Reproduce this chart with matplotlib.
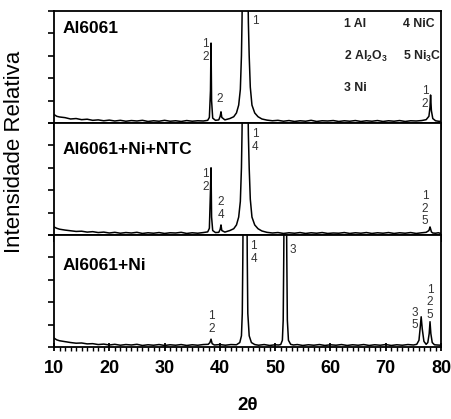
"""
Difractogramas DRX de Al6061, Al6061+Ni+NTC y Al6061+Ni apilados
(intensidad relativa vs 2 theta).
"""

import matplotlib
matplotlib.use("Agg")
import matplotlib.pyplot as plt
from matplotlib.ticker import MultipleLocator

plt.rcParams["font.family"] = ["Liberation Sans", "DejaVu Sans"]
plt.rcParams["mathtext.default"] = "regular"

# ---- datos (2theta en grados, intensidad en divisiones) ----
tt_al = [10, 10.5, 11, 12, 13, 14, 15, 16, 17, 18, 19, 20, 21, 22, 23, 24,
         25, 26, 27, 28, 29, 30, 31, 32, 33, 34, 35, 36, 37, 37.8, 38.1,
         38.3, 38.4, 38.5, 38.7, 39.2, 39.8, 40.05, 40.2, 40.35, 40.9,
         41.8, 42.5, 43.0, 43.4, 43.7, 43.9, 44.0, 44.1, 44.2, 44.95,
         45.05, 45.15, 45.3, 45.5, 45.8, 46.3, 46.9, 47.6, 48.5, 49.5, 50.5,
         51.5, 52.5, 53.5, 54.5, 55.5, 56.5, 57.5, 58.5, 59.5, 60.5, 61.5,
         62.5, 63.5, 64.5, 65.5, 66.5, 67.5, 68.5, 69.5, 70.5, 71.5, 72.5,
         73.5, 74.5, 75.5, 76.5, 77.3, 77.8, 78.0, 78.1, 78.25, 78.5, 79.0,
         79.5, 80]
int_al = [0.38, 0.30, 0.27, 0.24, 0.18, 0.20, 0.15, 0.17, 0.12, 0.14, 0.10,
          0.13, 0.09, 0.12, 0.08, 0.11, 0.09, 0.12, 0.07, 0.10, 0.08, 0.12,
          0.08, 0.10, 0.07, 0.11, 0.08, 0.10, 0.09, 0.12, 0.25, 1.45, 3.57,
          1.00, 0.22, 0.12, 0.14, 0.30, 0.50, 0.25, 0.14, 0.20, 0.28, 0.45,
          0.80, 1.50, 3.00, 4.50, 6.50, 8.00, 8.00, 6.50, 4.50, 3.00, 1.60,
          0.80, 0.45, 0.28, 0.18, 0.13, 0.10, 0.12, 0.08, 0.11, 0.07, 0.10,
          0.08, 0.12, 0.07, 0.10, 0.09, 0.11, 0.07, 0.10, 0.08, 0.11, 0.07,
          0.10, 0.08, 0.11, 0.07, 0.10, 0.08, 0.11, 0.07, 0.10, 0.09, 0.11,
          0.15, 0.30, 0.70, 1.25, 0.55, 0.20, 0.10, 0.08, 0.07]

tt_ntc = [10, 10.5, 11, 12, 13, 14, 15, 16, 17, 18, 19, 20, 21, 22, 23, 24,
          25, 26, 27, 28, 29, 30, 31, 32, 33, 34, 35, 36, 37, 37.8, 38.1,
          38.3, 38.4, 38.5, 38.7, 39.2, 39.8, 40.05, 40.2, 40.35, 40.9,
          41.8, 42.5, 43.0, 43.4, 43.7, 43.9, 44.0, 44.1, 44.2, 44.95,
          45.05, 45.15, 45.3, 45.5, 45.8, 46.3, 46.9, 47.6, 48.5, 49.5, 50.5,
          51.5, 52.5, 53.5, 54.5, 55.5, 56.5, 57.5, 58.5, 59.5, 60.5, 61.5,
          62.5, 63.5, 64.5, 65.5, 66.5, 67.5, 68.5, 69.5, 70.5, 71.5, 72.5,
          73.5, 74.5, 75.5, 76.5, 77.3, 77.8, 78.0, 78.1, 78.25, 78.5, 79.0,
          79.5, 80]
int_ntc = [0.36, 0.30, 0.26, 0.22, 0.19, 0.16, 0.17, 0.13, 0.15, 0.11, 0.13,
           0.09, 0.12, 0.08, 0.11, 0.09, 0.12, 0.07, 0.10, 0.08, 0.11, 0.07,
           0.10, 0.09, 0.12, 0.07, 0.10, 0.08, 0.11, 0.14, 0.30, 2.00, 3.00,
           0.80, 0.20, 0.11, 0.12, 0.25, 0.45, 0.20, 0.13, 0.20, 0.28, 0.45,
           0.80, 1.50, 3.00, 4.50, 6.50, 8.00, 8.00, 6.50, 4.50, 3.00, 1.60,
           0.80, 0.45, 0.28, 0.18, 0.12, 0.09, 0.11, 0.07, 0.10, 0.08, 0.11,
           0.07, 0.10, 0.08, 0.11, 0.07, 0.09, 0.08, 0.11, 0.07, 0.10, 0.08,
           0.11, 0.07, 0.10, 0.08, 0.11, 0.07, 0.10, 0.08, 0.11, 0.07, 0.10,
           0.12, 0.20, 0.36, 0.28, 0.14, 0.09, 0.08, 0.10, 0.07]

tt_ni = [10, 10.5, 11, 12, 13, 14, 15, 16, 17, 18, 19, 20, 21, 22, 23, 24,
         25, 26, 27, 28, 29, 30, 31, 32, 33, 34, 35, 36, 37, 37.9, 38.2,
         38.4, 38.6, 39.0, 40.0, 41.0, 42.0, 43.0, 43.6, 43.9, 44.05, 44.15,
         44.25, 44.85, 44.95, 45.05, 45.3, 45.7, 46.3, 47.0, 48.0, 49.0, 50.0,
         50.6, 51.0, 51.3, 51.45, 51.55, 51.65, 52.0, 52.1, 52.2, 52.4, 52.8,
         53.3, 54.0, 55.0, 56.0, 57.0, 58.0, 59.0, 60.0, 61.0, 62.0, 63.0,
         64.0, 65.0, 66.0, 67.0, 68.0, 69.0, 70.0, 71.0, 72.0, 73.0, 74.0,
         75.0, 75.6, 76.0, 76.2, 76.4, 76.6, 76.9, 77.3, 77.6, 77.85, 78.0,
         78.15, 78.4, 78.8, 79.3, 80]
int_ni = [0.40, 0.32, 0.28, 0.24, 0.20, 0.17, 0.18, 0.14, 0.15, 0.11, 0.13,
          0.09, 0.12, 0.08, 0.11, 0.09, 0.12, 0.07, 0.10, 0.08, 0.11, 0.07,
          0.10, 0.08, 0.11, 0.07, 0.10, 0.08, 0.11, 0.12, 0.20, 0.35, 0.15,
          0.09, 0.11, 0.08, 0.11, 0.10, 0.20, 0.50, 1.50, 4.00, 8.00, 8.00,
          4.00, 1.50, 0.50, 0.20, 0.11, 0.08, 0.11, 0.07, 0.10, 0.09, 0.11,
          0.30, 1.20, 4.00, 8.00, 8.00, 4.00, 1.20, 0.30, 0.12, 0.09, 0.11,
          0.07, 0.10, 0.08, 0.11, 0.07, 0.10, 0.08, 0.11, 0.07, 0.10, 0.08,
          0.11, 0.07, 0.10, 0.08, 0.11, 0.07, 0.10, 0.08, 0.11, 0.09, 0.12,
          0.30, 0.80, 1.35, 0.80, 0.25, 0.12, 0.20, 0.60, 1.13, 0.60, 0.20,
          0.10, 0.09, 0.08]

nombres_muestras = ["Al6061", "Al6061+Ni+NTC", "Al6061+Ni"]

# etiquetas de picos: (2theta, altura, texto)
picos_al = [(37.35, 3.25, "1\n2"), (40.0, 1.07, "2"),
            (46.35, 4.55, "1"), (77.1, 1.12, "1\n2")]
picos_ntc = [(37.4, 2.45, "1\n2"), (40.2, 1.18, "2\n4"),
             (46.35, 4.2, "1\n4"), (77.1, 1.18, "1\n2\n5")]
picos_ni = [(38.5, 1.09, "1\n2"), (46.1, 4.2, "1\n4"),
            (53.1, 4.33, "3"), (75.2, 1.25, "3\n5"),
            (78.0, 1.99, "1\n2\n5")]

fases = [(62.45, 4.42, "1 Al"), (73.1, 4.42, "4 NiC"),
         (62.45, 2.95, "2 Al$_2$O$_3$"), (73.1, 2.95, "5 Ni$_3$C"),
         (62.45, 1.56, "3 Ni")]


def graficar():
    fig = plt.figure(figsize=(4.51, 4.19), dpi=100)
    gs = fig.add_gridspec(3, 1, left=0.1197, right=0.978, top=0.9737,
                          bottom=0.1718, hspace=0)
    ejes = [fig.add_subplot(gs[i]) for i in range(3)]

    series = [(tt_al, int_al, picos_al), (tt_ntc, int_ntc, picos_ntc),
              (tt_ni, int_ni, picos_ni)]

    for i, (ax, (tt, inten, picos)) in enumerate(zip(ejes, series)):
        ax.plot(tt, inten, color="black", linewidth=1.1)
        ax.set_xlim(10, 80)
        ax.set_ylim(0, 5)
        ax.yaxis.set_major_locator(MultipleLocator(1))
        ax.tick_params(axis="y", direction="out", length=4.5, width=1.2,
                       labelleft=False)
        for lado in ax.spines.values():
            lado.set_linewidth(1.3)

        ax.text(11.5, [4.2, 3.84, 3.66][i], nombres_muestras[i],
                fontsize=12.5, fontweight="bold", va="center", ha="left")

        for x, y, txt in picos:
            ax.text(x, y, txt, fontsize=8.5, color="#333333", ha="center",
                    va="center", linespacing=1.1)

        ax.xaxis.set_major_locator(MultipleLocator(10))
        if i < 2:
            ax.xaxis.set_minor_locator(MultipleLocator(5))
            ax.tick_params(axis="x", which="major", direction="out",
                           length=5, width=1.3, labelbottom=False)
            ax.tick_params(axis="x", which="minor", direction="out",
                           length=2.5, width=1.1)
        else:
            ax.xaxis.set_minor_locator(MultipleLocator(1))
            ax.tick_params(axis="x", which="major", direction="inout",
                           length=6, width=1.3, labelsize=13, pad=6)
            ax.tick_params(axis="x", which="minor", direction="out",
                           length=3, width=1.0)
            for lbl in ax.get_xticklabels():
                lbl.set_fontweight("bold")
            ax.set_xlabel("2θ", fontsize=13.5, fontweight="bold", labelpad=15)

    for x, y, txt in fases:
        ejes[0].text(x, y, txt, fontsize=8.8, fontweight="bold",
                     color="#222222", ha="left", va="center")

    fig.text(15 / 451, 1 - 152 / 419, "Intensidade Relativa", fontsize=16,
             rotation=90, ha="center", va="center")

    fig.savefig("out.png", dpi=100)


if __name__ == "__main__":
    graficar()
